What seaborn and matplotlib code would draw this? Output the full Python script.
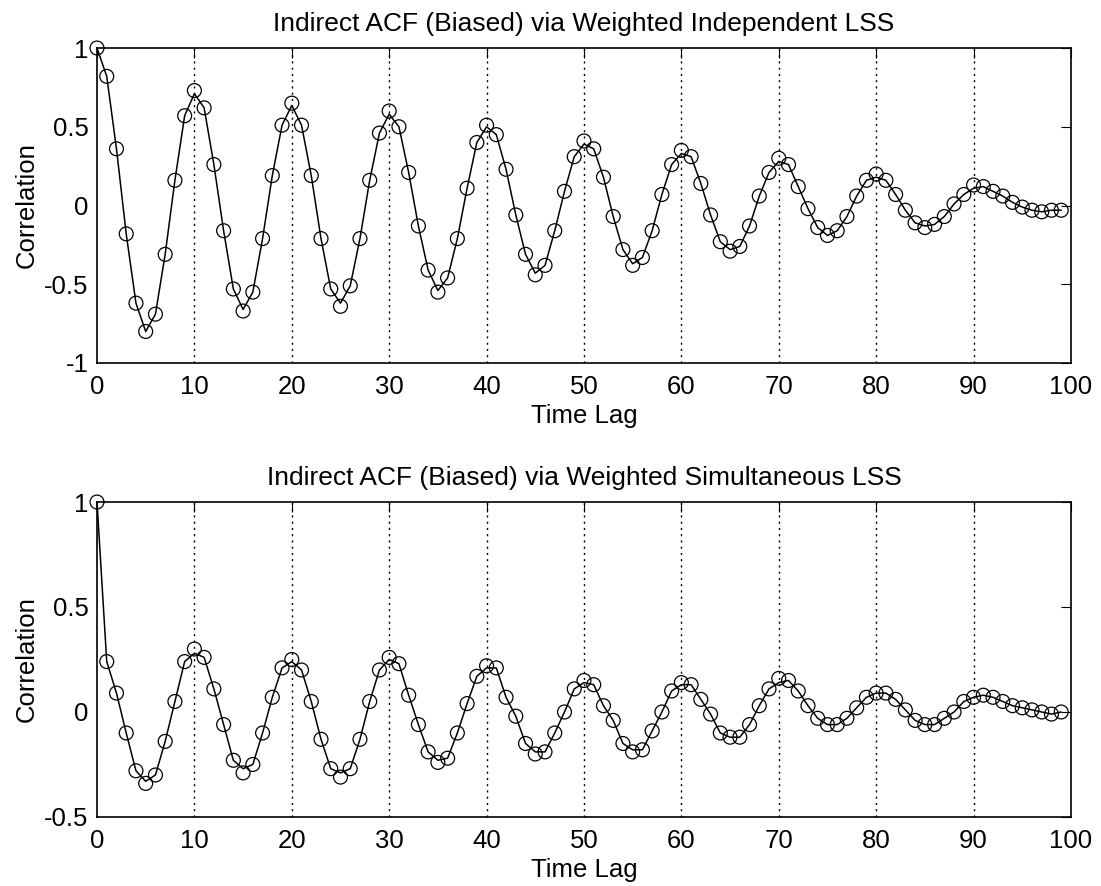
import numpy as np
import pandas as pd
import matplotlib
matplotlib.use("Agg")
import matplotlib.pyplot as plt
import seaborn as sns

lags = list(range(100))

est_top = [1.00, 0.82, 0.36, -0.18, -0.62, -0.80, -0.69, -0.31, 0.16, 0.57,
           0.73, 0.62, 0.26, -0.16, -0.53, -0.67, -0.55, -0.21, 0.19, 0.51,
           0.65, 0.51, 0.19, -0.21, -0.53, -0.64, -0.51, -0.21, 0.16, 0.46,
           0.60, 0.50, 0.21, -0.13, -0.41, -0.55, -0.46, -0.21, 0.11, 0.40,
           0.51, 0.45, 0.23, -0.06, -0.31, -0.44, -0.38, -0.16, 0.09, 0.31,
           0.41, 0.36, 0.18, -0.07, -0.28, -0.38, -0.33, -0.16, 0.07, 0.26,
           0.35, 0.31, 0.14, -0.06, -0.23, -0.29, -0.26, -0.13, 0.06, 0.21,
           0.30, 0.26, 0.12, -0.02, -0.14, -0.19, -0.16, -0.07, 0.06, 0.16,
           0.20, 0.16, 0.07, -0.03, -0.11, -0.14, -0.12, -0.07, 0.01, 0.07,
           0.13, 0.12, 0.09, 0.06, 0.02, -0.01, -0.03, -0.04, -0.03, -0.03]

line_top = [1.00, 0.82, 0.36, -0.18, -0.62, -0.80, -0.69, -0.31, 0.16, 0.57,
            0.71, 0.62, 0.26, -0.16, -0.53, -0.66, -0.55, -0.21, 0.19, 0.51,
            0.635, 0.51, 0.19, -0.21, -0.53, -0.62, -0.51, -0.21, 0.16, 0.46,
            0.58, 0.50, 0.21, -0.13, -0.41, -0.54, -0.46, -0.21, 0.11, 0.40,
            0.50, 0.45, 0.23, -0.06, -0.31, -0.43, -0.38, -0.16, 0.09, 0.31,
            0.39, 0.36, 0.18, -0.07, -0.28, -0.37, -0.33, -0.16, 0.07, 0.26,
            0.33, 0.31, 0.14, -0.06, -0.23, -0.28, -0.26, -0.13, 0.06, 0.21,
            0.28, 0.26, 0.12, -0.02, -0.14, -0.19, -0.16, -0.07, 0.06, 0.16,
            0.18, 0.16, 0.07, -0.03, -0.11, -0.13, -0.12, -0.07, 0.01, 0.07,
            0.11, 0.12, 0.09, 0.06, 0.02, -0.01, -0.03, -0.04, -0.03, -0.03]

est_bot = [1.00, 0.24, 0.09, -0.10, -0.28, -0.34, -0.30, -0.14, 0.05, 0.24,
           0.30, 0.26, 0.11, -0.06, -0.23, -0.29, -0.25, -0.10, 0.07, 0.21,
           0.25, 0.20, 0.05, -0.13, -0.27, -0.31, -0.27, -0.13, 0.05, 0.20,
           0.26, 0.23, 0.08, -0.06, -0.19, -0.24, -0.22, -0.10, 0.04, 0.17,
           0.22, 0.21, 0.07, -0.02, -0.15, -0.20, -0.19, -0.10, 0.00, 0.11,
           0.15, 0.13, 0.03, -0.04, -0.15, -0.19, -0.18, -0.09, 0.00, 0.10,
           0.14, 0.13, 0.06, -0.01, -0.10, -0.12, -0.12, -0.06, 0.03, 0.11,
           0.16, 0.15, 0.10, 0.03, -0.03, -0.06, -0.06, -0.03, 0.02, 0.07,
           0.09, 0.09, 0.06, 0.01, -0.04, -0.06, -0.06, -0.03, 0.00, 0.05,
           0.07, 0.08, 0.07, 0.05, 0.03, 0.02, 0.01, 0.00, -0.01, 0.00]

line_bot = [1.00, 0.24, 0.09, -0.10, -0.28, -0.33, -0.30, -0.14, 0.05, 0.24,
            0.28, 0.26, 0.11, -0.06, -0.23, -0.27, -0.25, -0.10, 0.07, 0.21,
            0.24, 0.20, 0.05, -0.13, -0.27, -0.29, -0.27, -0.13, 0.05, 0.20,
            0.25, 0.23, 0.08, -0.06, -0.19, -0.23, -0.22, -0.10, 0.04, 0.17,
            0.21, 0.21, 0.07, -0.02, -0.15, -0.19, -0.19, -0.10, 0.00, 0.11,
            0.14, 0.13, 0.03, -0.04, -0.15, -0.18, -0.18, -0.09, 0.00, 0.10,
            0.13, 0.13, 0.06, -0.01, -0.10, -0.12, -0.12, -0.06, 0.03, 0.11,
            0.14, 0.15, 0.10, 0.03, -0.03, -0.06, -0.06, -0.03, 0.02, 0.07,
            0.09, 0.09, 0.06, 0.01, -0.04, -0.06, -0.06, -0.03, 0.00, 0.05,
            0.07, 0.08, 0.07, 0.05, 0.03, 0.02, 0.01, 0.00, -0.01, 0.00]

titles = ["Indirect ACF (Biased) via Weighted Independent LSS",
          "Indirect ACF (Biased) via Weighted Simultaneous LSS"]
xticks = [0, 10, 20, 30, 40, 50, 60, 70, 80, 90, 100]
yticks_top = [-1, -0.5, 0, 0.5, 1]
yticks_bot = [-0.5, 0, 0.5, 1]
ylims = [(-1, 1), (-0.5, 1)]

sns.set_theme(style="white")
plt.rcParams['font.family'] = ['Liberation Sans', 'DejaVu Sans']
plt.rcParams['axes.edgecolor'] = 'black'
plt.rcParams['text.color'] = 'black'
plt.rcParams['axes.labelcolor'] = 'black'
plt.rcParams['axes.titlecolor'] = 'black'
plt.rcParams['xtick.color'] = 'black'
plt.rcParams['ytick.color'] = 'black'
plt.rcParams['xtick.direction'] = 'in'
plt.rcParams['ytick.direction'] = 'in'

fig = plt.figure(figsize=(11.01, 8.86), dpi=100)
ax1 = fig.add_axes([0.0881, 0.5903, 0.8846, 0.3555])
ax2 = fig.add_axes([0.0881, 0.0779, 0.8846, 0.3555])

panels = [(ax1, est_top, line_top, titles[0], yticks_top, ylims[0]),
          (ax2, est_bot, line_bot, titles[1], yticks_bot, ylims[1])]

for ax, est, line, title, yt, yl in panels:
    df = pd.DataFrame({"lag": lags, "est": est, "line": line})
    for x in xticks[1:-1]:
        ax.axvline(x, color='black', linestyle=(0, (1.5, 3)), linewidth=1.0, zorder=1)
    sns.lineplot(data=df, x="lag", y="line", ax=ax, color='black', linewidth=1.1,
                 zorder=3, clip_on=False)
    sns.scatterplot(data=df, x="lag", y="est", ax=ax, marker='o', s=100,
                    facecolors='none', edgecolor='black', linewidth=0.9,
                    zorder=4, clip_on=False)
    ax.set_xlim(0, 100)
    ax.set_ylim(*yl)
    ax.set_xticks(xticks)
    ax.set_yticks(yt)
    ax.set_yticklabels([("%g" % v) for v in yt])
    ax.tick_params(axis='both', which='both', direction='in', length=7, width=0.8,
                   top=True, right=True, labelsize=18.5, colors='black')
    ax.tick_params(axis='x', pad=9)
    ax.tick_params(axis='y', pad=6)
    for s in ax.spines.values():
        s.set_linewidth(1.2)
        s.set_color('black')
    ax.set_title(title, fontsize=19, pad=12, color='black')
    ax.set_xlabel("Time Lag", fontsize=18.5, labelpad=3, color='black')
    ax.set_ylabel("Correlation", fontsize=18.5, labelpad=4, color='black')

fig.savefig("out.png", dpi=100)
